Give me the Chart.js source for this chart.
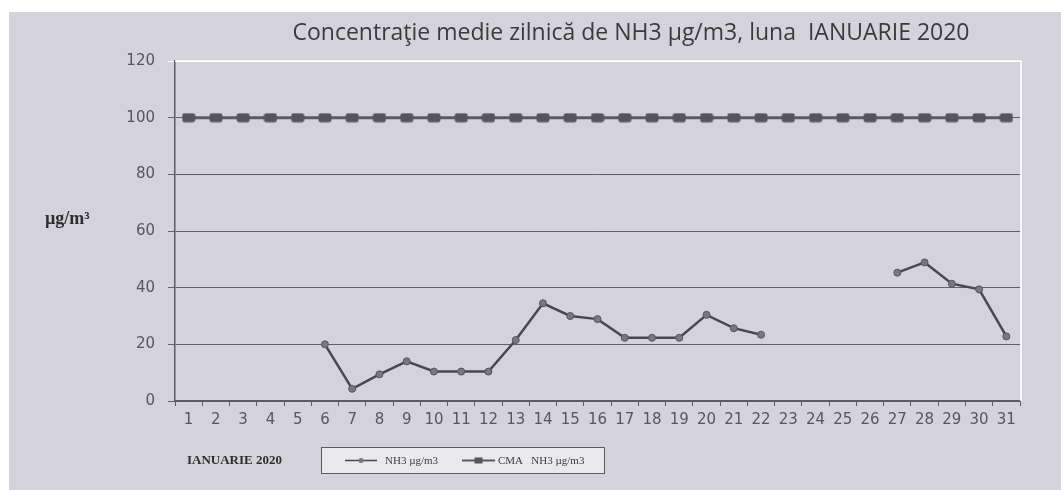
<!DOCTYPE html>
<html>
<head>
<meta charset="utf-8">
<script src="https://cdn.jsdelivr.net/npm/chart.js@4.4.0/dist/chart.umd.min.js"></script>
<style>
  html, body { margin: 0; padding: 0; background: #fff; }
  #wrap { width: 1061px; height: 490px; position: relative; }
</style>
</head>
<body>
<div id="wrap"><canvas id="nh3Chart"></canvas></div>
<script>
// ******** date ********
const days = ['1','2','3','4','5','6','7','8','9','10','11','12','13','14','15','16','17','18','19','20','21','22','23','24','25','26','27','28','29','30','31'];
const nh3 = [null,null,null,null,null,20,4.3,9.4,14,10.4,10.4,10.4,21.5,34.5,30,28.9,22.3,22.3,22.3,30.4,25.7,23.4,null,null,null,null,45.3,48.9,41.4,39.4,22.8];
const cma = [100,100,100,100,100,100,100,100,100,100,100,100,100,100,100,100,100,100,100,100,100,100,100,100,100,100,100,100,100,100,100];
const yTicks = [0,20,40,60,80,100,120];

const titleText = 'Concentraţie medie zilnică de NH3 µg/m3, luna  IANUARIE 2020';
const yUnit = 'µg/m³';
const xTitle = 'IANUARIE 2020';
const seriesNames = ['NH3 µg/m3', 'CMA   NH3 µg/m3'];

// marker dreptunghiular pentru CMA
function rectMarker() {
  const c = document.createElement('canvas');
  c.width = 14; c.height = 10;
  const g = c.getContext('2d');
  g.fillStyle = '#55555b';
  g.beginPath();
  g.roundRect(0.5, 0.5, 13, 9, 2.5);
  g.fill();
  return c;
}
const cmaMarker = rectMarker();

// fundal, titlu, legenda
const decor = {
  id: 'decor',
  beforeDraw(chart) {
    const ctx = chart.ctx;
    ctx.save();
    ctx.fillStyle = '#ffffff';
    ctx.fillRect(0, 0, chart.width, chart.height);
    ctx.fillStyle = '#d4d3d9';
    ctx.fillRect(9, 12, chart.width - 9, chart.height - 12);
    ctx.restore();
  },
  afterDraw(chart) {
    const ctx = chart.ctx;
    const a = chart.chartArea;
    ctx.save();

    // chenar alb sus si dreapta
    ctx.strokeStyle = '#ffffff';
    ctx.lineWidth = 1.5;
    ctx.beginPath();
    ctx.moveTo(a.left, a.top);
    ctx.lineTo(a.right + 1, a.top);
    ctx.lineTo(a.right + 1, a.bottom);
    ctx.stroke();

    ctx.fillStyle = '#3b3b3f';
    ctx.font = '23px "Open Sans"';
    ctx.textAlign = 'center';
    ctx.textBaseline = 'middle';
    ctx.fillText(titleText, 631, 33);

    ctx.fillStyle = '#2e2e32';
    ctx.font = 'bold 18px "Liberation Serif"';
    ctx.textAlign = 'left';
    ctx.fillText(yUnit, 45, 219);
    ctx.font = 'bold 13px "Liberation Serif"';
    ctx.fillText(xTitle, 187, 461);

    // legenda
    ctx.fillStyle = '#e9e8ed';
    ctx.fillRect(321, 447, 283, 26);
    ctx.strokeStyle = '#5a5a60';
    ctx.lineWidth = 1;
    ctx.strokeRect(321.5, 447.5, 283, 26);

    const ds = chart.data.datasets;
    const items = [[345, 377, 385], [462, 495, 498]];
    items.forEach(function(it, i) {
      ctx.strokeStyle = ds[i].borderColor;
      ctx.lineWidth = i === 0 ? 1.5 : 2;
      ctx.beginPath();
      ctx.moveTo(it[0], 460.5);
      ctx.lineTo(it[1], 460.5);
      ctx.stroke();
      const mx = (it[0] + it[1]) / 2;
      if (i === 0) {
        ctx.fillStyle = ds[0].pointBackgroundColor;
        ctx.beginPath();
        ctx.arc(mx, 460.5, 2.5, 0, Math.PI * 2);
        ctx.fill();
      } else {
        ctx.fillStyle = '#55555b';
        ctx.fillRect(mx - 4, 457.5, 8, 6);
      }
      ctx.fillStyle = '#3b3b40';
      ctx.font = '11px "Liberation Serif"';
      ctx.fillText(seriesNames[i], it[2], 461);
    });
    ctx.restore();
  }
};

window.onload = function () {
  const context = document.getElementById('nh3Chart').getContext('2d');
  new Chart(context, {
    type: 'line',
    data: {
      labels: days,
      datasets: [{
        label: seriesNames[0],
        data: nh3,
        borderColor: '#48484e',
        borderWidth: 2.5,
        pointRadius: 3.5,
        pointBackgroundColor: '#78787e',
        pointBorderColor: '#55555b',
        pointBorderWidth: 1,
        spanGaps: false,
        tension: 0,
        order: 1
      }, {
        label: seriesNames[1],
        data: cma,
        borderColor: '#5a5a60',
        borderWidth: 3,
        pointStyle: cmaMarker,
        pointRadius: 7,
        tension: 0,
        order: 2
      }]
    },
    options: {
      responsive: true,
      maintainAspectRatio: false,
      animation: false,
      layout: { padding: { left: 0, right: 41, top: 61, bottom: 49 } },
      scales: {
        x: {
          offset: true,
          afterFit: function(s) { s.height = 40; },
          grid: {
            offset: true,
            drawOnChartArea: false,
            tickLength: 5,
            color: '#5a5a60'
          },
          border: { color: '#5a5a60', width: 1.5 },
          ticks: {
            color: '#56565c',
            font: { family: '"DejaVu Sans"', size: 15 },
            padding: 5,
            maxRotation: 0,
            autoSkip: false
          }
        },
        y: {
          min: 0,
          max: 120,
          afterFit: function(s) { s.width = 175; },
          afterBuildTicks: function(s) { s.ticks = yTicks.map(function(v) { return { value: v }; }); },
          grid: {
            color: function(c) { return c.tick && c.tick.value === 120 ? '#ffffff' : '#606066'; },
            lineWidth: 1,
            tickLength: 7
          },
          border: { color: '#5a5a60', width: 1.5 },
          ticks: {
            color: '#56565c',
            font: { family: '"DejaVu Sans"', size: 15 },
            padding: 13
          }
        }
      },
      plugins: {
        legend: { display: false },
        title: { display: false },
        tooltip: { enabled: false }
      }
    },
    plugins: [decor]
  });
};
</script>
</body>
</html>
